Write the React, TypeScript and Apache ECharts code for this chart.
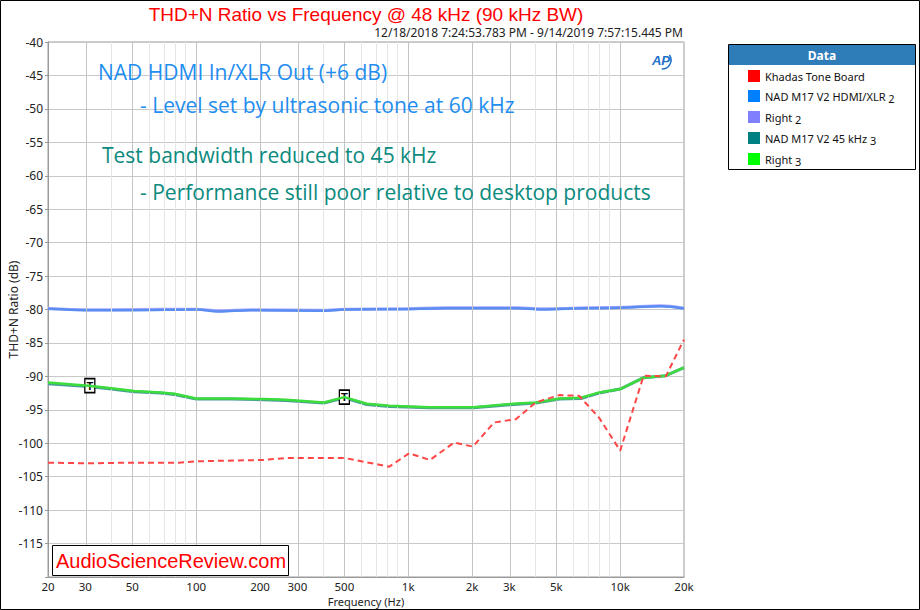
import React, { useEffect, useRef } from "react";
import * as echarts from "echarts";

// ---- axis ticks ----
const tickFreqs = [20, 30, 50, 100, 200, 300, 500, 1000, 2000, 3000, 5000, 10000, 20000];
const tickLabels = ["20", "30", "50", "100", "200", "300", "500", "1k", "2k", "3k", "5k", "10k", "20k"];
const minorFreqs = [40, 60, 70, 80, 90, 400, 600, 700, 800, 900, 4000, 6000, 7000, 8000, 9000];

// ---- series data ----
const khadasFreq = [20, 31, 49, 83, 100, 208, 265, 500, 814, 1010, 1266, 1646, 2020, 2540, 3220, 4000, 5160, 6400, 7960, 10000, 12900, 16400, 20000];
const khadasVals = [-102.9, -103.0, -102.9, -102.9, -102.7, -102.5, -102.2, -102.2, -103.5, -101.5, -102.5, -99.9, -100.5, -96.9, -96.4, -93.9, -92.8, -92.9, -96.2, -101.1, -89.9, -90.0, -84.5];

const hdmiFreq = [20, 30, 51, 100, 128, 180, 394, 500, 934, 1520, 2000, 3290, 4220, 5900, 8280, 10600, 15600, 20000];
const hdmiVals = [-79.9, -80.1, -80.1, -80.0, -80.3, -80.1, -80.2, -80.0, -79.95, -79.8, -79.8, -79.8, -80.0, -79.85, -79.8, -79.7, -79.5, -79.85];
const right2Vals = [-79.85, -80.05, -80.0, -79.95, -80.2, -80.05, -80.1, -79.95, -79.9, -79.75, -79.75, -79.75, -79.9, -79.8, -79.7, -79.65, -79.45, -79.8];

const bw45Freq = [20, 31, 38, 51, 68, 79, 100, 147, 208, 265, 400, 500, 638, 814, 1260, 2030, 3140, 4000, 5160, 6530, 7960, 10000, 12900, 16400, 20000];
const right3Vals = [-90.9, -91.4, -91.7, -92.2, -92.4, -92.6, -93.3, -93.3, -93.4, -93.5, -93.9, -93.1, -94.1, -94.4, -94.6, -94.6, -94.1, -93.9, -93.3, -93.2, -92.4, -91.9, -90.2, -89.9, -88.7];
const nad45Vals = [-91.1, -91.5, -91.8, -92.3, -92.5, -92.7, -93.4, -93.4, -93.5, -93.6, -94.0, -93.2, -94.2, -94.5, -94.7, -94.7, -94.2, -94.0, -93.4, -93.3, -92.5, -91.9, -90.2, -89.9, -88.7];

const markers = [
  { freq: 31.5, value: -91.4 },
  { freq: 500, value: -93.1 },
];

const lg = (f: number) => Math.log10(f);
const pts = (fs: number[], vs: number[]) => fs.map((f, i) => [lg(f), vs[i]]);

const legendNames = ["Khadas Tone Board", "NAD M17 V2 HDMI/XLR 2", "Right 2", "NAD M17 V2 45 kHz 3", "Right 3"];

export default function App() {
  const ref = useRef<HTMLDivElement>(null);
  useEffect(() => {
    const chart = echarts.init(ref.current!, null, { renderer: "svg" });
    const gridLines = [
      ...tickFreqs.slice(1, -1).map((f) => ({ xAxis: lg(f), lineStyle: { color: "#c4c4c4", width: 1, type: "solid" } })),
      ...minorFreqs.map((f) => ({ xAxis: lg(f), lineStyle: { color: "#e6e6e6", width: 1, type: "solid" } })),
    ];
    const option: any = {
      animation: false,
      backgroundColor: "#fff",
      grid: {
        left: 48, right: 236, top: 42, bottom: 33,
        containLabel: false, outerBoundsMode: "none",
        show: true, borderColor: "#9a9a9a", borderWidth: 1, backgroundColor: "transparent",
      },
      legend: {
        data: legendNames,
        orient: "vertical",
        left: 748,
        top: 69,
        itemWidth: 12,
        itemHeight: 12,
        itemGap: 5,
        icon: "rect",
        padding: 0,
        selectedMode: false,
        textStyle: {
          fontFamily: "Noto Sans", fontSize: 11, color: "#111", lineHeight: 14,
          rich: {
            n: { fontFamily: "Noto Sans", fontSize: 11, color: "#111", lineHeight: 14 },
            s: { fontFamily: "Noto Sans", fontSize: 11, color: "#111", lineHeight: 14, padding: [5, 0, 0, 0] },
          },
        },
        formatter: (name: string) => {
          const m = name.match(/^(.*) (\d)$/);
          if (m) return `{n|${m[1]}} {s|${m[2]}}`;
          return `{n|${name}}`;
        },
      },
      xAxis: {
        type: "value",
        min: lg(20),
        max: lg(20000),
        name: "Frequency (Hz)",
        nameLocation: "middle",
        nameGap: 18,
        nameMoveOverlap: false,
        nameTextStyle: { fontFamily: "Noto Sans", fontSize: 11, color: "#222", lineHeight: 12 },
        axisLine: { show: true, lineStyle: { color: "#9a9a9a" } },
        axisTick: { show: false },
        splitLine: { show: false },
        axisLabel: {
          customValues: tickFreqs.map(lg),
          fontFamily: "Noto Sans",
          fontSize: 11.5,
          lineHeight: 12,
          color: "#222",
          margin: 3,
          formatter: (v: number) => {
            const i = tickFreqs.findIndex((f) => Math.abs(lg(f) - v) < 1e-6);
            return i >= 0 ? tickLabels[i] : "";
          },
        },
      },
      yAxis: {
        type: "value",
        min: -120,
        max: -40,
        interval: 5,
        name: "THD+N Ratio (dB)",
        nameLocation: "middle",
        nameGap: 29,
        nameMoveOverlap: false,
        nameTextStyle: { fontFamily: "Noto Sans", fontSize: 12, color: "#222" },
        axisLine: { show: true, lineStyle: { color: "#9a9a9a" } },
        axisTick: { show: true, length: 3, lineStyle: { color: "#9a9a9a" } },
        splitLine: { show: true, lineStyle: { color: "#c8c8c8", width: 1 } },
        axisLabel: {
          fontFamily: "Noto Sans",
          fontSize: 12,
          color: "#222",
          margin: 5,
          formatter: (v: number) => (v === -120 ? "" : String(v)),
        },
      },
      series: [
        {
          name: "grid",
          type: "line",
          data: [],
          silent: true,
          z: 1,
          markLine: { silent: true, symbol: ["none", "none"], label: { show: false }, animation: false, data: gridLines },
        },
        {
          name: "Right 2",
          type: "line",
          data: pts(hdmiFreq, right2Vals),
          color: "#8080ff",
          showSymbol: false,
          smooth: 0.3,
          lineStyle: { color: "#a8a8ff", width: 3 },
          z: 2,
        },
        {
          name: "NAD M17 V2 HDMI/XLR 2",
          type: "line",
          data: pts(hdmiFreq, hdmiVals),
          color: "#0080ff",
          showSymbol: false,
          smooth: 0.3,
          lineStyle: { color: "#5a8cf2", width: 2.5 },
          z: 3,
        },
        {
          name: "NAD M17 V2 45 kHz 3",
          type: "line",
          data: pts(bw45Freq, nad45Vals),
          color: "#008080",
          showSymbol: false,
          lineStyle: { color: "#4a9a9a", width: 3 },
          z: 4,
        },
        {
          name: "Right 3",
          type: "line",
          data: pts(bw45Freq, right3Vals),
          color: "#00ff00",
          showSymbol: false,
          lineStyle: { color: "#3ddc3d", width: 2.5 },
          z: 5,
          markPoint: {
            symbol: "rect",
            symbolSize: [10, 14],
            itemStyle: { color: "#ffffff", borderColor: "#000000", borderWidth: 1.5 },
            label: { show: true, formatter: "T", position: "inside", color: "#000", fontSize: 11, fontWeight: "bold", fontFamily: "Liberation Sans" },
            data: markers.map((m) => ({ coord: [lg(m.freq), m.value] })),
          },
        },
        {
          name: "Khadas Tone Board",
          type: "line",
          data: pts(khadasFreq, khadasVals),
          color: "#ff0000",
          showSymbol: false,
          lineStyle: { color: "#ff4646", width: 2, type: [6, 4] },
          z: 6,
        },
      ],
      graphic: [
        { type: "rect", shape: { x: 0.5, y: 0.5, width: 919, height: 609 }, style: { fill: "none", stroke: "#000", lineWidth: 1 }, silent: true },
        { type: "text", x: 366, y: 14, style: { text: "THD+N Ratio vs Frequency @ 48 kHz (90 kHz BW)", fill: "#ff0000", font: "19px 'Liberation Sans'", textAlign: "center", textVerticalAlign: "middle" } },
        { type: "text", x: 683, y: 32, style: { text: "12/18/2018 7:24:53.783 PM - 9/14/2019 7:57:15.445 PM", fill: "#222", font: "12px 'Noto Sans'", textAlign: "right", textVerticalAlign: "middle" } },
        { type: "text", x: 98, y: 72, z: 10, style: { text: "NAD HDMI In/XLR Out (+6 dB)", fill: "#1f8ef0", font: "21px 'Open Sans'", textVerticalAlign: "middle" } },
        { type: "text", x: 140, y: 105, z: 10, style: { text: "- Level set by ultrasonic tone at 60 kHz", fill: "#1f8ef0", font: "21px 'Open Sans'", textVerticalAlign: "middle" } },
        { type: "text", x: 102, y: 155, z: 10, style: { text: "Test bandwidth reduced to 45 kHz", fill: "#0b8a7e", font: "21px 'Open Sans'", textVerticalAlign: "middle" } },
        { type: "text", x: 140, y: 192, z: 10, style: { text: "- Performance still poor relative to desktop products", fill: "#0b8a7e", font: "21px 'Open Sans'", textVerticalAlign: "middle" } },
        // AP logo
        { type: "text", x: 661, y: 60, z: 10, style: { text: "AP", fill: "#1f6fc8", font: "italic bold 13px 'Liberation Sans'", textAlign: "center", textVerticalAlign: "middle" } },
        { type: "arc", z: 10, shape: { cx: 662, cy: 60, r: 9, startAngle: -0.6, endAngle: 1.6 }, style: { stroke: "#1f6fc8", lineWidth: 1.5, fill: "none" } },
        // Legend box
        { type: "rect", shape: { x: 728.5, y: 44.5, width: 187, height: 125 }, style: { fill: "#fff", stroke: "#000", lineWidth: 1 }, z: -1 },
        { type: "rect", shape: { x: 729, y: 45, width: 186, height: 20 }, style: { fill: "#2e7cb8" }, z: 0 },
        { type: "text", x: 822, y: 55, z: 1, style: { text: "Data", fill: "#fff", font: "bold 12px 'Noto Sans'", textAlign: "center", textVerticalAlign: "middle" } },
        // ASR box
        { type: "rect", z: 20, shape: { x: 52.5, y: 545.5, width: 236, height: 30 }, style: { fill: "#fff", stroke: "#000", lineWidth: 1 } },
        { type: "text", z: 21, x: 56, y: 561, style: { text: "AudioScienceReview.com", fill: "#ff0000", font: "20px 'Liberation Sans'", textVerticalAlign: "middle" } },
      ],
    };
    chart.setOption(option);
    return () => chart.dispose();
  }, []);
  return (
    <div style={{ position: "fixed", left: 0, top: 0, width: 920, height: 610, background: "#fff" }}>
      <div ref={ref} style={{ width: 920, height: 610 }} />
    </div>
  );
}
